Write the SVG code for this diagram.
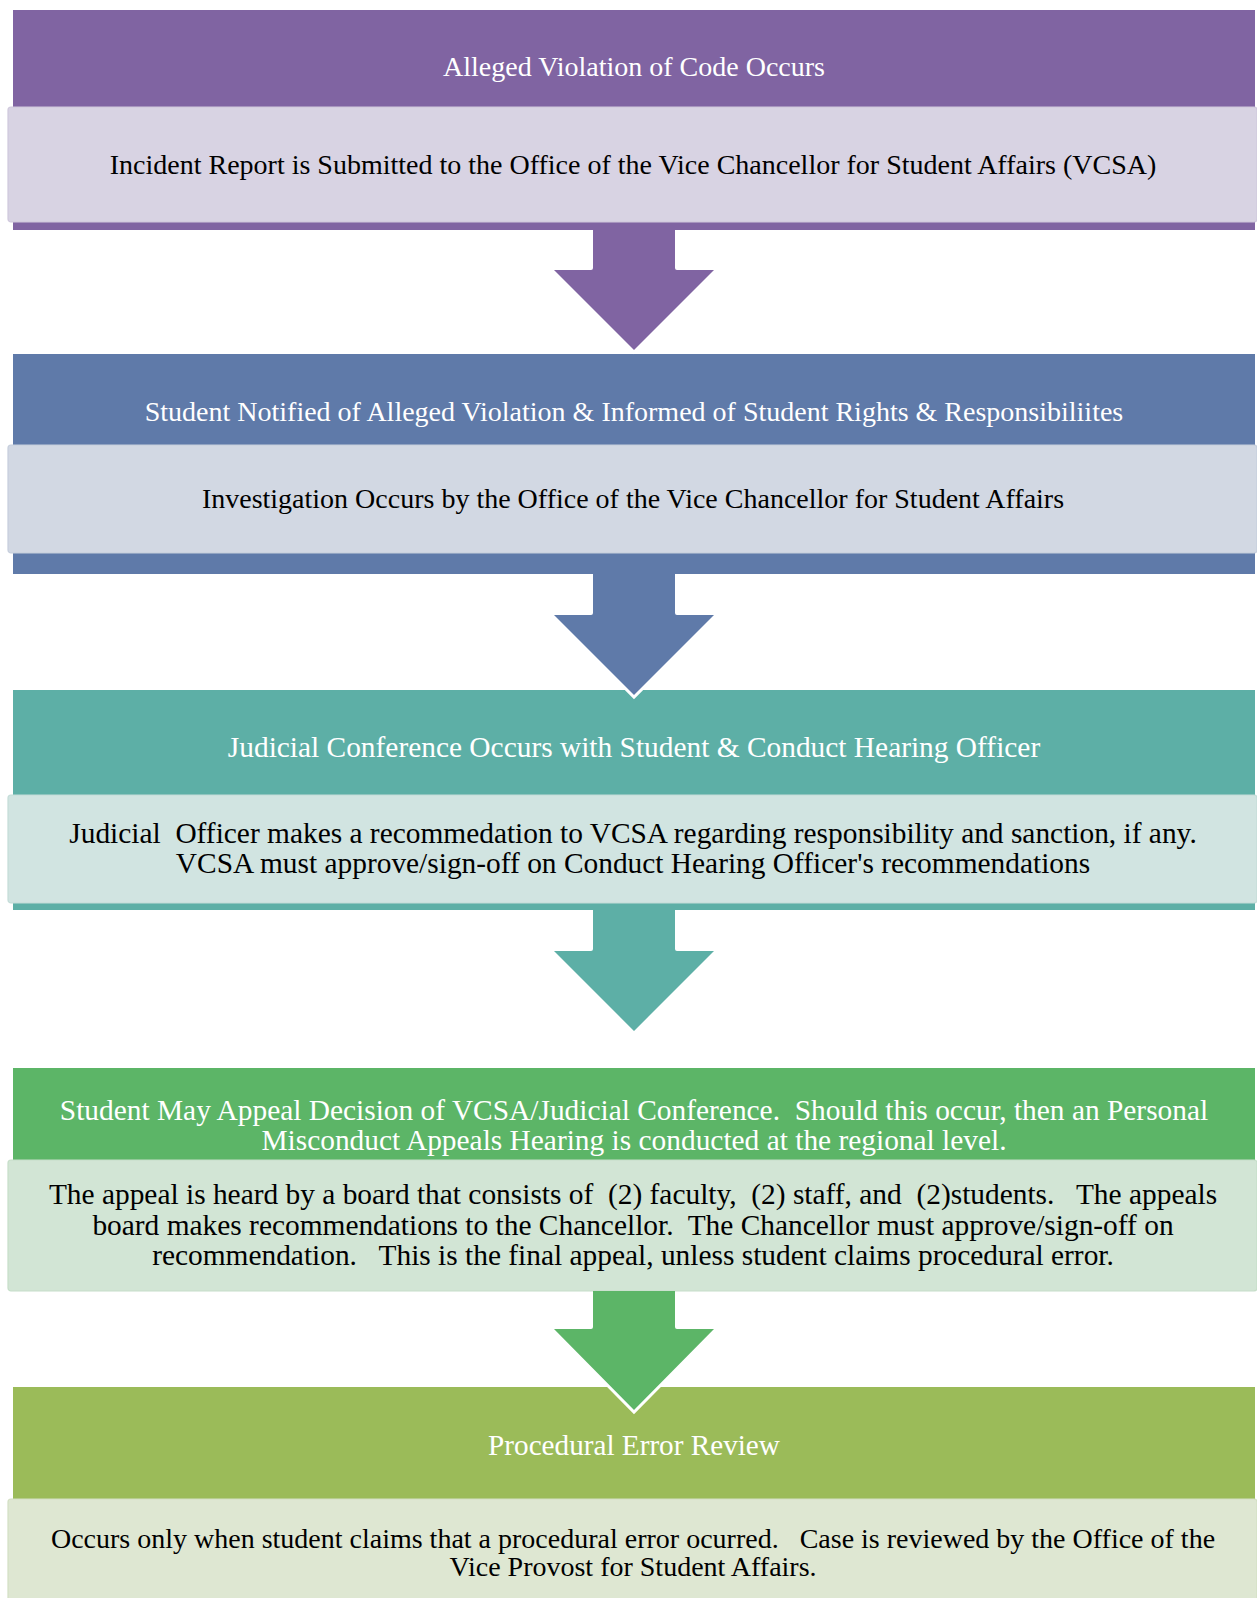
<svg xmlns="http://www.w3.org/2000/svg" width="1257" height="1598" viewBox="0 0 1257 1598">
<style>
text{font-family:"Liberation Serif","Times New Roman",serif;font-size:28px;text-anchor:middle;white-space:pre}
.h{fill:#ffffff}
.b{fill:#000000}
.l{font-size:29.4px}
.lb{stroke-width:1.2}
.glow{fill:none;stroke:#ffffff;stroke-width:6;stroke-linejoin:miter}
</style>
<rect width="1257" height="1598" fill="#ffffff"/>
<g id="node1">
<rect x="13" y="10" width="1242" height="220" fill="#8064A2"/>
<text class="h" x="634" y="76">Alleged Violation of Code Occurs</text>
<rect class="lb" x="8" y="107" width="1249" height="115" rx="3" fill="#D8D3E3" stroke="#CFC8DC"/>
<text class="b" x="633" y="174">Incident Report is Submitted to the Office of the Vice Chancellor for Student Affairs (VCSA)</text>
</g>
<g id="node2">
<rect x="13" y="354" width="1242" height="220" fill="#5F7AA9"/>
<text class="h" x="634" y="421">Student Notified of Alleged Violation &amp; Informed of Student Rights &amp; Responsibiliites</text>
<rect class="lb" x="8" y="445" width="1249" height="108" rx="3" fill="#D2D8E3" stroke="#C6CEDC"/>
<text class="b" x="633" y="508">Investigation Occurs by the Office of the Vice Chancellor for Student Affairs</text>
</g>
<g id="node3">
<rect x="13" y="690" width="1242" height="220" fill="#5DAFA6"/>
<text class="h l" x="634" y="757">Judicial Conference Occurs with Student &amp; Conduct Hearing Officer</text>
<rect class="lb" x="8" y="795" width="1249" height="108" rx="3" fill="#D1E4E1" stroke="#C4DCD8"/>
<text class="b l" x="633" y="843">Judicial  Officer makes a recommedation to VCSA regarding responsibility and sanction, if any.</text>
<text class="b l" x="633" y="873">VCSA must approve/sign-off on Conduct Hearing Officer's recommendations</text>
</g>
<g id="node4">
<rect x="13" y="1068" width="1242" height="223" fill="#5CB567"/>
<text class="h l" x="634" y="1120">Student May Appeal Decision of VCSA/Judicial Conference.  Should this occur, then an Personal</text>
<text class="h l" x="634" y="1150">Misconduct Appeals Hearing is conducted at the regional level.</text>
<rect class="lb" x="8" y="1160" width="1249" height="131" rx="3" fill="#D2E5D5" stroke="#C6DEC9"/>
<text class="b l" x="633" y="1204">The appeal is heard by a board that consists of  (2) faculty,  (2) staff, and  (2)students.   The appeals</text>
<text class="b l" x="633" y="1235">board makes recommendations to the Chancellor.  The Chancellor must approve/sign-off on</text>
<text class="b l" x="633" y="1265">recommendation.   This is the final appeal, unless student claims procedural error.</text>
</g>
<g id="node5">
<rect x="13" y="1387" width="1242" height="215" fill="#9BBB59"/>
<text class="h" x="634" y="1455" style="font-size:29.2px">Procedural Error Review</text>
<rect class="lb" x="8" y="1499" width="1249" height="105" rx="3" fill="#DEE7D2" stroke="#D3DFC3"/>
<text class="b" x="633" y="1548">Occurs only when student claims that a procedural error ocurred.   Case is reviewed by the Office of the</text>
<text class="b" x="633" y="1576">Vice Provost for Student Affairs.</text>
</g>
<g id="connectors">
<polyline class="glow" points="554,270 634,350 714,270"/>
<path d="M593,230 L675,230 L675,268 Q675,270 677,270 L714,270 L634,350 L554,270 L591,270 Q593,270 593,268 Z" fill="#8064A2"/>
<polyline class="glow" points="554,615 634,695 714,615"/>
<path d="M593,574 L675,574 L675,613 Q675,615 677,615 L714,615 L634,695 L554,615 L591,615 Q593,615 593,613 Z" fill="#5F7AA9"/>
<polyline class="glow" points="554,951 634,1031 714,951"/>
<path d="M593,910 L675,910 L675,949 Q675,951 677,951 L714,951 L634,1031 L554,951 L591,951 Q593,951 593,949 Z" fill="#5DAFA6"/>
<polyline class="glow" points="554,1329 634,1410 714,1329"/>
<path d="M593,1291 L675,1291 L675,1327 Q675,1329 677,1329 L714,1329 L634,1410 L554,1329 L591,1329 Q593,1329 593,1327 Z" fill="#5CB567"/>
</g>
</svg>
